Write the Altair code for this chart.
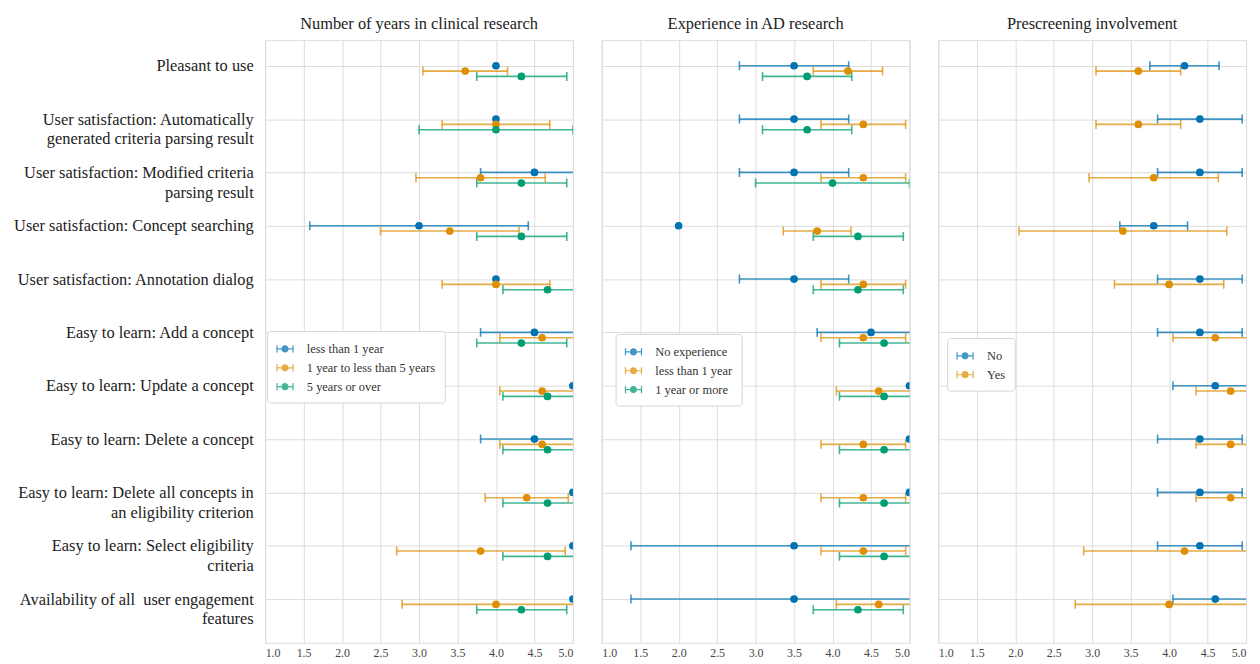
import json
import altair as alt
import pandas as pd

row_labels = [
    "Pleasant to use",
    "User satisfaction: Automatically|generated criteria parsing result",
    "User satisfaction: Modified criteria|parsing result",
    "User satisfaction: Concept searching",
    "User satisfaction: Annotation dialog",
    "Easy to learn: Add a concept",
    "Easy to learn: Update a concept",
    "Easy to learn: Delete a concept",
    "Easy to learn: Delete all concepts in|an eligibility criterion",
    "Easy to learn: Select eligibility|criteria",
    "Availability of all\u00a0 user engagement|features",
]

titles = ["Number of years in clinical research", "Experience in AD research", "Prescreening involvement"]
colors = ["#0173B2", "#DE8F05", "#029E73"]
N = None

# Panel A: Number of years in clinical research
a_groups = ["less than 1 year", "1 year to less than 5 years", "5 years or over"]
a_mean = [
    [4.0, 4.0, 4.5, 3.0, 4.0, 4.5, 5.0, 4.5, 5.0, 5.0, 5.0],
    [3.6, 4.0, 3.8, 3.4, 4.0, 4.6, 4.6, 4.6, 4.4, 3.8, 4.0],
    [4.33, 4.0, 4.33, 4.33, 4.67, 4.33, 4.67, 4.67, 4.67, 4.67, 4.33],
]
a_lo = [
    [N, N, 3.8, 1.58, N, 3.8, N, 3.8, N, N, N],
    [3.05, 3.3, 2.96, 2.5, 3.3, 4.05, 4.05, 4.05, 3.86, 2.71, 2.78],
    [3.75, 3.0, 3.75, 3.75, 4.09, 3.75, 4.09, 4.09, 4.09, 4.09, 3.75],
]
a_hi = [
    [N, N, 5.2, 4.42, N, 5.2, N, 5.2, N, N, N],
    [4.15, 4.7, 4.64, 4.3, 4.7, 5.15, 5.15, 5.15, 4.94, 4.9, 5.22],
    [4.92, 5.0, 4.92, 4.92, 5.25, 4.92, 5.25, 5.25, 5.25, 5.25, 4.92],
]

# Panel B: Experience in AD research
b_groups = ["No experience", "less than 1 year", "1 year or more"]
b_mean = [
    [3.5, 3.5, 3.5, 2.0, 3.5, 4.5, 5.0, 5.0, 5.0, 3.5, 3.5],
    [4.2, 4.4, 4.4, 3.8, 4.4, 4.4, 4.6, 4.4, 4.4, 4.4, 4.6],
    [3.67, 3.67, 4.0, 4.33, 4.33, 4.67, 4.67, 4.67, 4.67, 4.67, 4.33],
]
b_lo = [
    [2.79, 2.79, 2.79, N, 2.79, 3.8, N, N, N, 1.38, 1.38],
    [3.75, 3.85, 3.85, 3.36, 3.85, 3.85, 4.05, 3.85, 3.85, 3.85, 4.05],
    [3.09, 3.09, 3.0, 3.75, 3.75, 4.09, 4.09, 4.09, 4.09, 4.09, 3.75],
]
b_hi = [
    [4.21, 4.21, 4.21, N, 4.21, 5.2, N, N, N, 5.62, 5.62],
    [4.65, 4.95, 4.95, 4.24, 4.95, 4.95, 5.15, 4.95, 4.95, 4.95, 5.15],
    [4.25, 4.25, 5.0, 4.92, 4.92, 5.25, 5.25, 5.25, 5.25, 5.25, 4.92],
]

# Panel C: Prescreening involvement
c_groups = ["No", "Yes"]
c_mean = [
    [4.2, 4.4, 4.4, 3.8, 4.4, 4.4, 4.6, 4.4, 4.4, 4.4, 4.6],
    [3.6, 3.6, 3.8, 3.4, 4.0, 4.6, 4.8, 4.8, 4.8, 4.2, 4.0],
]
c_lo = [
    [3.75, 3.85, 3.85, 3.36, 3.85, 3.85, 4.05, 3.85, 3.85, 3.85, 4.05],
    [3.05, 3.05, 2.96, 2.05, 3.29, 4.05, 4.35, 4.35, 4.35, 2.89, 2.78],
]
c_hi = [
    [4.65, 4.95, 4.95, 4.24, 4.95, 4.95, 5.15, 4.95, 4.95, 4.95, 5.15],
    [4.15, 4.15, 4.64, 4.75, 4.71, 5.15, 5.25, 5.25, 5.25, 5.51, 5.22],
]

SERIF = "Liberation Serif"
SYMBOL = ("M-1,-0.42H-0.86V0.42H-1Z M-0.86,-0.07H-0.4V0.07H-0.86Z "
          "M0.4,-0.07H0.86V0.07H0.4Z M0.86,-0.42H1V0.42H0.86Z "
          "M-0.42,0A0.42,0.42 0 1,0 0.42,0A0.42,0.42 0 1,0 -0.42,0Z")

label_expr = "split(" + json.dumps(row_labels) + "[datum.value], '|')"


def make_df(groups, mean, lo, hi):
    recs = []
    for gi, g in enumerate(groups):
        for r in range(len(row_labels)):
            recs.append({"group": g, "gi": gi, "row": r, "mean": mean[gi][r],
                         "lo": lo[gi][r], "hi": hi[gi][r]})
    return pd.DataFrame(recs)


def panel(idx, groups, mean, lo, hi, lx, ly):
    df = make_df(groups, mean, lo, hi)
    legend = alt.Legend(title=None, orient="none", legendX=lx, legendY=ly,
                        symbolType=SYMBOL, symbolSize=300, symbolStrokeWidth=0,
                        labelFont=SERIF, labelFontSize=12.5, labelColor="#333333",
                        strokeColor="#d6d6d6", fillColor="white", padding=9,
                        cornerRadius=3, rowPadding=3, labelOffset=13)
    color = alt.Color("group:N", scale=alt.Scale(domain=groups, range=colors[:len(groups)]),
                      legend=legend, sort=groups)
    xscale = alt.Scale(domain=[1, 5], nice=False, zero=False)
    yscale = alt.Scale(domain=[-0.48, 10.82], reverse=True, nice=False, zero=False)
    xaxis = alt.Axis(title=None, values=[1 + 0.5 * i for i in range(9)], format=".1f",
                     labelFont=SERIF, labelFontSize=12, labelColor="#444444",
                     ticks=False, domain=False, grid=True, gridColor="#dcdcdc", labelPadding=5)
    yaxis = alt.Axis(title=None, values=list(range(len(row_labels))), ticks=False, domain=False,
                     grid=True, gridColor="#dcdcdc", labels=(idx == 0),
                     labelExpr=label_expr, labelFont=SERIF, labelFontSize=16.5,
                     labelColor="#222222", labelPadding=12, labelLimit=400,
                     labelAlign="right", labelBaseline="middle", labelLineHeight=20)
    base = alt.Chart(df).transform_calculate(yy="datum.row + 0.1 * datum.gi")
    y = alt.Y("yy:Q", scale=yscale, axis=yaxis)
    x_mean = alt.X("mean:Q", scale=xscale, axis=xaxis)
    bars = base.transform_filter("isValid(datum.lo)")
    rule = bars.mark_rule(strokeWidth=1.6, opacity=0.75, clip=True).encode(
        x=alt.X("lo:Q", scale=xscale, axis=xaxis), x2="hi:Q", y=y, color=color)
    cap_lo = bars.mark_tick(orient="vertical", size=9, thickness=1.6, opacity=0.75, clip=True).encode(
        x=alt.X("lo:Q", scale=xscale, axis=xaxis), y=y, color=color)
    cap_hi = bars.mark_tick(orient="vertical", size=9, thickness=1.6, opacity=0.75, clip=True).encode(
        x=alt.X("hi:Q", scale=xscale, axis=xaxis), y=y, color=color)
    pts = base.mark_point(filled=True, size=60, opacity=1, clip=True).encode(
        x=x_mean, y=y, color=color)
    return alt.layer(rule, cap_lo, cap_hi, pts).properties(
        width=310, height=607,
        title=alt.TitleParams(titles[idx], font=SERIF, fontSize=16.5, fontWeight="normal",
                              color="#222222", anchor="middle", offset=8),
    )


p1 = panel(0, a_groups, a_mean, a_lo, a_hi, 2, 293)
p2 = panel(1, b_groups, b_mean, b_lo, b_hi, 14, 296)
p3 = panel(2, c_groups, c_mean, c_lo, c_hi, 9, 300)

chart = alt.hconcat(p1, p2, p3, spacing=27).resolve_scale(color="independent").configure_view(
    stroke="#d0d0d0", strokeWidth=1.2
).configure(background="white")

chart.save("out.html", embed_options={"renderer": "svg", "actions": False})
